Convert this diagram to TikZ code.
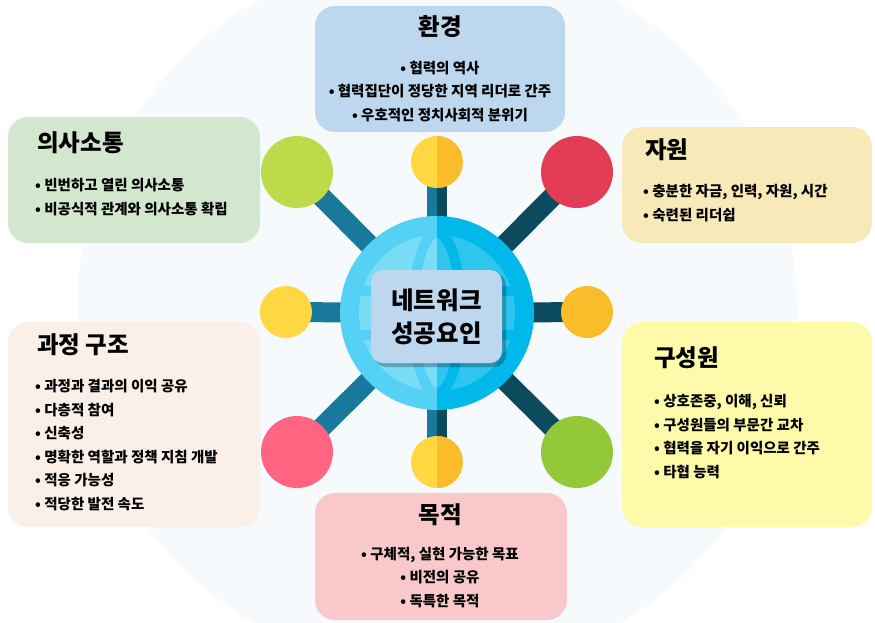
\documentclass[tikz,border=0pt]{standalone}
\usepackage{fontspec}
\setmainfont{Noto Sans CJK KR}
\usetikzlibrary{backgrounds}

\definecolor{bgring}{HTML}{F6FAFD}
\definecolor{envfill}{HTML}{BDD7EE}
\definecolor{commfill}{HTML}{D3E7CF}
\definecolor{resfill}{HTML}{F8E9B9}
\definecolor{procfill}{HTML}{FBF0E8}
\definecolor{memfill}{HTML}{FDFBAA}
\definecolor{goalfill}{HTML}{F8C8CB}
\definecolor{sunA}{HTML}{FFD740}
\definecolor{sunB}{HTML}{FBBC2C}
\definecolor{lime}{HTML}{BDDA48}
\definecolor{crimson}{HTML}{E33C55}
\definecolor{rose}{HTML}{FF6480}
\definecolor{grass}{HTML}{93C938}
\definecolor{tealA}{HTML}{18799C}
\definecolor{tealB}{HTML}{0C4A5E}
\definecolor{globeA}{HTML}{56D1F6}
\definecolor{globeAl}{HTML}{7ADDF6}
\definecolor{globeB}{HTML}{00B8E9}
\definecolor{globeBl}{HTML}{2EC5EE}

\begin{document}
\begin{tikzpicture}[x=1pt,y=-1pt,
  box/.style={rounded corners=20pt, minimum width=250pt, inner sep=0pt},
  heading/.style={font=\fontsize{23.5}{26}\selectfont\bfseries, inner sep=0pt},
  items/.style={font=\fontsize{14.5}{23.5}\selectfont\bfseries, inner sep=0pt, align=left, anchor=west},
  sat/.style={circle, minimum size=#1, inner sep=0pt},
  halfright/.style={path picture={\fill[#1] (path picture bounding box.north) rectangle (path picture bounding box.south east);}},
  spoke/.style={line width=20pt}]
  \useasboundingbox (0,0) rectangle (875,622);

  \coordinate (hub) at (437,313);

  % boxes
  \node[box, fill=envfill, minimum height=126pt] (env) at (440,69) {};
  \node[box, fill=commfill, minimum width=252pt, minimum height=126pt] (comm) at (134,180) {};
  \node[box, fill=resfill, minimum height=116pt] (res) at (747,185) {};
  \node[box, fill=procfill, minimum width=252pt, minimum height=205pt] (proc) at (134,424.5) {};
  \node[box, fill=memfill, minimum height=205pt] (mem) at (747,424.5) {};
  \node[box, fill=goalfill, minimum width=252pt, minimum height=127pt] (goal) at (441,556.5) {};

  % satellites
  \node[sat=52pt, fill=sunA, halfright=sunB] (st) at (437,162) {};
  \node[sat=52pt, fill=sunA, halfright=sunB] (sb) at (437,462) {};
  \node[sat=52pt, fill=sunA] (sl) at (286,312) {};
  \node[sat=52pt, fill=sunB] (sr) at (587,312) {};
  \node[sat=72pt, fill=lime] (stl) at (297,172) {};
  \node[sat=72pt, fill=crimson] (str) at (577,172) {};
  \node[sat=72pt, fill=rose] (sbl) at (297,452) {};
  \node[sat=72pt, fill=grass] (sbr) at (577,452) {};

  \begin{scope}[on background layer]
    \fill[white] (0,0) rectangle (875,622);
    \fill[bgring] (hub) circle[radius=360];
    \foreach \s in {stl, sl, sbl}
    {  \draw[spoke, tealA] (hub) -- (\s.center);
    }
    \foreach \s in {str, sr, sbr}
    {  \draw[spoke, tealB] (hub) -- (\s.center);
    }
    \foreach \s in {st, sb}
    {  \draw[line width=10pt, tealA] ([xshift=-5pt]hub) -- ([xshift=-5pt]\s.center);
       \draw[line width=10pt, tealB] ([xshift=5pt]hub) -- ([xshift=5pt]\s.center);
    }
  \end{scope}

  % globe, left and right halves
  \foreach \side/\base/\light in {-1/globeA/globeAl, 1/globeB/globeBl}
  {  \begin{scope}
       \clip (hub) ++(0,-100) rectangle ++(100*\side,200);
       \fill[\base] (hub) circle[radius=97];
       \fill[\light] (hub) circle[radius=78];
       \draw[\base, line width=10pt] (hub) ellipse[x radius=24, y radius=80];
       \draw[\base, line width=10pt] (hub) ++(-90,-22) -- ++(180,0);
       \draw[\base, line width=10pt] (hub) ++(-90,22) -- ++(180,0);
     \end{scope}
  }

  % centre label
  \fill[black, opacity=0.25, rounded corners=12pt] (374,273) rectangle (506,367);
  \node[fill=envfill, rounded corners=12pt, minimum width=131pt, minimum height=93pt,
        align=center, font=\fontsize{24.5}{33}\selectfont\bfseries] (lbl) at (436.5,316.5) {네트워크\\성공요인};

  % texts
  \node[heading] (envtitle) at (440,27) {환경};
  \node[items, align=center, anchor=center] (envtxt) at (440,91.5)
    {• 협력의 역사\\• 협력집단이 정당한 지역 리더로 간주\\• 우호적인 정치사회적 분위기};

  \node[heading, anchor=west] (commtitle) at (37,143) {의사소통};
  \node[items] (commtxt) at (35,197) {• 빈번하고 열린 의사소통\\• 비공식적 관계와 의사소통 확립};

  \node[heading, anchor=west] (restitle) at (645,150) {자원};
  \node[items] (restxt) at (643,203) {• 충분한 자금, 인력, 자원, 시간\\• 숙련된 리더쉽};

  \node[heading, anchor=west] (proctitle) at (37,345) {과정 구조};
  \node[items] (proctxt) at (35,445)
    {• 과정과 결과의 이익 공유\\• 다층적 참여\\• 신축성\\• 명확한 역할과 정책 지침 개발\\• 적응 가능성\\• 적당한 발전 속도};

  \node[heading, anchor=west] (memtitle) at (654,358) {구성원};
  \node[items] (memtxt) at (654,436.5)
    {• 상호존중, 이해, 신뢰\\• 구성원들의 부문간 교차\\• 협력을 자기 이익으로 간주\\• 타협 능력};

  \node[heading] (goaltitle) at (440,515) {목적};
  \node[items, align=center, anchor=center] (goaltxt) at (440,577.5)
    {• 구체적, 실현 가능한 목표\\• 비전의 공유\\• 독특한 목적};
\end{tikzpicture}
\end{document}
